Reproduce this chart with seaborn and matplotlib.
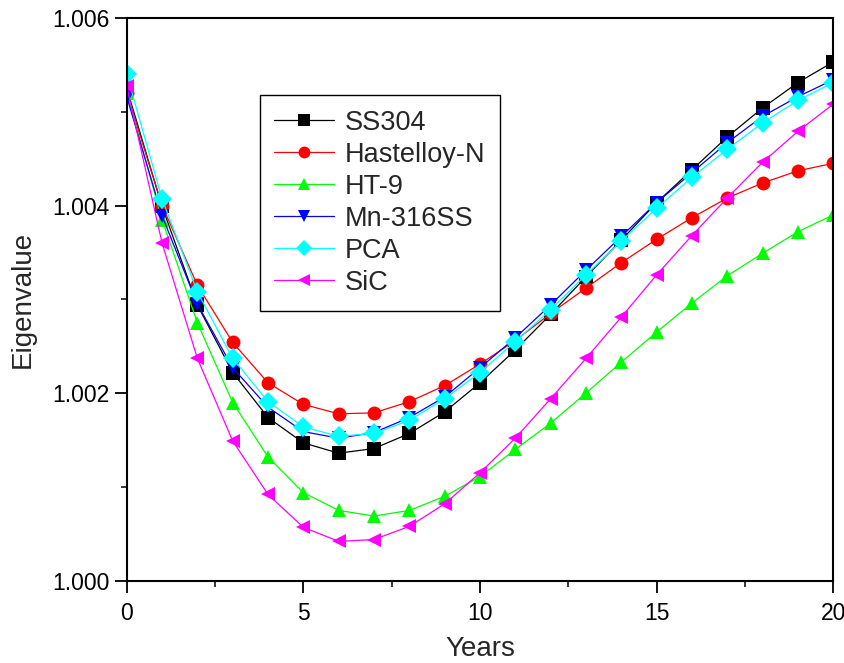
import numpy as np
import pandas as pd
import matplotlib
matplotlib.use("Agg")
import matplotlib.pyplot as plt
import seaborn as sns
from matplotlib.ticker import MultipleLocator, FormatStrFormatter

years = list(range(0, 21))
ss304 = [1.00525, 1.00399, 1.00294, 1.00222, 1.00174, 1.00147, 1.00136, 1.00141, 1.00157, 1.00180, 1.00211,
         1.00246, 1.00284, 1.00324, 1.00363, 1.00403, 1.00438, 1.00473, 1.00504, 1.00531, 1.00553]
hastelloy = [1.00520, 1.00400, 1.00315, 1.00254, 1.00211, 1.00188, 1.00178, 1.00179, 1.00191, 1.00208, 1.00231,
             1.00256, 1.00285, 1.00312, 1.00339, 1.00364, 1.00387, 1.00408, 1.00424, 1.00437, 1.00445]
ht9 = [1.00520, 1.00385, 1.00275, 1.00190, 1.00132, 1.00094, 1.00075, 1.00069, 1.00075, 1.00090, 1.00111,
       1.00140, 1.00168, 1.00200, 1.00233, 1.00265, 1.00296, 1.00325, 1.00349, 1.00372, 1.00390]
mn316 = [1.00516, 1.00389, 1.00295, 1.00227, 1.00185, 1.00159, 1.00152, 1.00158, 1.00174, 1.00196, 1.00227,
         1.00259, 1.00294, 1.00331, 1.00367, 1.00403, 1.00435, 1.00467, 1.00495, 1.00516, 1.00534]
pca = [1.00540, 1.00407, 1.00308, 1.00237, 1.00191, 1.00164, 1.00154, 1.00157, 1.00171, 1.00194, 1.00222,
       1.00255, 1.00289, 1.00326, 1.00362, 1.00397, 1.00430, 1.00460, 1.00488, 1.00512, 1.00531]
sic = [1.00527, 1.00360, 1.00237, 1.00149, 1.00092, 1.00057, 1.00042, 1.00044, 1.00058, 1.00082, 1.00115,
       1.00152, 1.00194, 1.00237, 1.00281, 1.00326, 1.00368, 1.00408, 1.00446, 1.00479, 1.00508]

series_names = ["SS304", "Hastelloy-N", "HT-9", "Mn-316SS", "PCA", "SiC"]
series_vals = [ss304, hastelloy, ht9, mn316, pca, sic]
colors = ["#000000", "#FF0000", "#00FF00", "#0000FF", "#00FFFF", "#FF00FF"]
marks = ["s", "o", "^", "v", "D", "<"]

rows = []
for name, vals in zip(series_names, series_vals):
    for x, v in zip(years, vals):
        rows.append({"Years": x, "Eigenvalue": v, "Material": name})
df = pd.DataFrame(rows)

sns.set_style("ticks")
plt.rcParams["font.family"] = ["Liberation Sans", "DejaVu Sans"]

fig = plt.figure(figsize=(8.45, 6.63), dpi=100)
ax = fig.add_axes([0.150, 0.124, 0.836, 0.849])

sns.lineplot(data=df, x="Years", y="Eigenvalue", hue="Material", style="Material",
             hue_order=series_names, style_order=series_names,
             palette=dict(zip(series_names, colors)),
             markers=dict(zip(series_names, marks)), dashes=False,
             linewidth=0.9, markersize=10, markeredgewidth=0, ax=ax)

ax.set_xlim(0, 20)
ax.set_ylim(1.000, 1.006)
ax.xaxis.set_major_locator(MultipleLocator(5))
ax.xaxis.set_minor_locator(MultipleLocator(2.5))
ax.yaxis.set_major_locator(MultipleLocator(0.002))
ax.yaxis.set_minor_locator(MultipleLocator(0.001))
ax.yaxis.set_major_formatter(FormatStrFormatter("%.3f"))
ax.tick_params(which="major", direction="out", length=8.5, width=1.3, labelsize=16.5, colors="black")
ax.tick_params(which="minor", direction="out", length=4.5, width=1.3)
ax.tick_params(axis="x", which="major", pad=7)
ax.tick_params(axis="y", which="major", pad=4)
for s in ax.spines.values():
    s.set_linewidth(1.5)
    s.set_color("black")
    s.set_visible(True)

ax.set_xlabel("Years", fontsize=20, labelpad=8)
ax.set_ylabel("Eigenvalue", fontsize=20, labelpad=12)

leg = ax.legend(loc="upper left", bbox_to_anchor=(0.188, 0.863), borderaxespad=0,
                fontsize=19.5, frameon=True, fancybox=False, edgecolor="black", framealpha=1,
                handlelength=2.2, labelspacing=0.22, borderpad=0.55, handletextpad=0.4,
                markerscale=0.85)
leg.get_frame().set_linewidth(1.0)

fig.savefig("out.png", dpi=100)
